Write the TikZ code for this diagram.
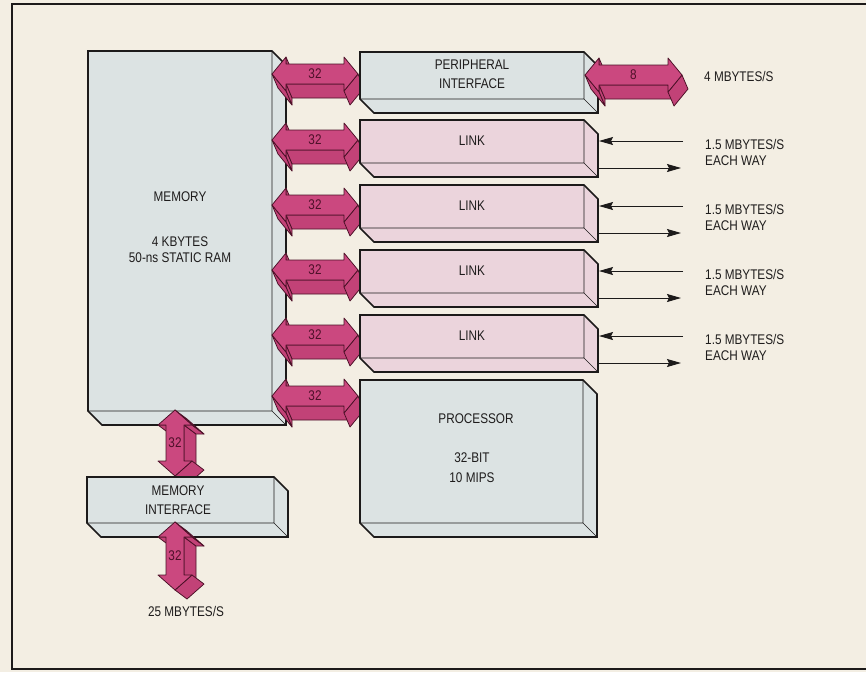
\documentclass[tikz,border=0pt]{standalone}
\usepackage{fontspec}
\setmainfont{Liberation Sans}[FakeStretch=0.84]
\usetikzlibrary{arrows.meta,calc}
\definecolor{bgc}{HTML}{F3EEE3}
\definecolor{boxline}{HTML}{1C1A1A}
\definecolor{bluegrey}{HTML}{DCE3E3}
\definecolor{linkpink}{HTML}{EBD4DC}
\definecolor{mag}{HTML}{CB487F}
\definecolor{magdark}{HTML}{C24277}
\definecolor{magline}{HTML}{4A1026}
\definecolor{labc}{HTML}{4E1029}
\definecolor{txtc}{HTML}{1E1C1C}
% 3D box depth
\newcommand\BxD{14}
% horizontal arrow geometry
\newcommand\ArHl{14}\newcommand\ArHH{17}\newcommand\ArHb{10}
\newcommand\ArHex{6}\newcommand\ArHey{14}
% vertical arrow geometry
\newcommand\ArVl{15}\newcommand\ArVH{17}\newcommand\ArVb{9}
\newcommand\ArVex{12}\newcommand\ArVey{9}
% #1 name, #2 x0, #3 y0, #4 x1, #5 y1, #6 fill
\newcommand\TDBox[6]{%
  \fill[#6] (#2,#3) -- (#4-\BxD,#3) -- (#4,#3+\BxD) -- (#4,#5) -- (#2+\BxD,#5) -- (#2,#5-\BxD) -- cycle;
  \draw[inner line] (#2,#5-\BxD) -- (#4-\BxD,#5-\BxD) -- (#4-\BxD,#3) (#4-\BxD,#5-\BxD) -- (#4,#5);
  \draw[outer line] (#2,#3) -- (#4-\BxD,#3) -- (#4,#3+\BxD) -- (#4,#5) -- (#2+\BxD,#5) -- (#2,#5-\BxD) -- cycle;
  \node[inner sep=0pt, outer sep=0pt, minimum width={(#4-#2)*1pt}, minimum height={(#5-#3)*1pt}, anchor=north west] (#1) at (#2,#3) {};
}
\newcommand\HFace[2]{\filldraw[aface] (#1) -- (#2) -- ($(#2)+(\ArHex,\ArHey)$) -- ($(#1)+(\ArHex,\ArHey)$) -- cycle;}
\newcommand\VFace[2]{\filldraw[aface] (#1) -- (#2) -- ($(#2)+(\ArVex,\ArVey)$) -- ($(#1)+(\ArVex,\ArVey)$) -- cycle;}
% #1 name, #2 xL, #3 xR, #4 yc, #5 label
\newcommand\HArr[5]{%
  \path (#2,#4) coordinate (P1)
    (#2+\ArHl,#4-\ArHH) coordinate (P2)
    (#2+\ArHl,#4-\ArHb) coordinate (P3)
    (#3-\ArHl,#4-\ArHb) coordinate (P4)
    (#3-\ArHl,#4-\ArHH) coordinate (P5)
    (#3,#4) coordinate (P6)
    (#3-\ArHl,#4+\ArHH) coordinate (P7)
    (#3-\ArHl,#4+\ArHb) coordinate (P8)
    (#2+\ArHl,#4+\ArHb) coordinate (P9)
    (#2+\ArHl,#4+\ArHH) coordinate (P10);
  \HFace{P8}{P9}\HFace{P2}{P3}\HFace{P9}{P10}\HFace{P6}{P7}\HFace{P10}{P1}
  \filldraw[afront] (P1) -- (P2) -- (P3) -- (P4) -- (P5) -- (P6) -- (P7) -- (P8) -- (P9) -- (P10) -- cycle;
  \node[lab] (#1) at ($(P1)!0.5!(P6)$) {#5};
}
% #1 name, #2 xc, #3 yT, #4 yB, #5 label
\newcommand\VArr[5]{%
  \path (#2,#3) coordinate (Q1)
    (#2+\ArVH,#3+\ArVl) coordinate (Q2)
    (#2+\ArVb,#3+\ArVl) coordinate (Q3)
    (#2+\ArVb,#4-\ArVl) coordinate (Q4)
    (#2+\ArVH,#4-\ArVl) coordinate (Q5)
    (#2,#4) coordinate (Q6)
    (#2-\ArVH,#4-\ArVl) coordinate (Q7)
    (#2-\ArVb,#4-\ArVl) coordinate (Q8)
    (#2-\ArVb,#3+\ArVl) coordinate (Q9)
    (#2-\ArVH,#3+\ArVl) coordinate (Q10);
  \VFace{Q3}{Q4}\VFace{Q2}{Q3}\VFace{Q1}{Q2}\VFace{Q9}{Q10}\VFace{Q5}{Q6}
  \filldraw[afront] (Q1) -- (Q2) -- (Q3) -- (Q4) -- (Q5) -- (Q6) -- (Q7) -- (Q8) -- (Q9) -- (Q10) -- cycle;
  \node[lab] (#1) at ($(Q1)!0.5!(Q6)$) {#5};
}
\begin{document}
\begin{tikzpicture}[x=1pt,y=-1pt,
  outer line/.style={draw=boxline, line width=1.7pt, line join=miter},
  inner line/.style={draw=boxline, line width=0.6pt},
  afront/.style={fill=mag, draw=magline, line width=0.75pt, line join=round},
  aface/.style={fill=magdark, draw=magline, line width=0.75pt, line join=round},
  lab/.style={font=\fontsize{14}{16}\selectfont, text=labc, inner sep=0pt},
  txt/.style={font=\fontsize{14}{16}\selectfont, text=txtc, inner sep=0pt},
  rtxt/.style={txt, anchor=west},
  thinarr/.style={draw=boxline, line width=0.9pt, -{Stealth[length=14pt,width=8pt,inset=2pt]}},
  frameline/.style={draw=boxline, line width=1.2pt}]
\useasboundingbox (0,0) rectangle (866,672);
\fill[bgc] (0,0) rectangle (866,672);
\draw[frameline] (866,4) -- (12,4) -- (12,669) -- (866,669);

% memory
\TDBox{mem}{88}{51}{286}{425}{bluegrey}

% 32-bit buses from memory
\HArr{b0}{272}{358}{74}{32}
\HArr{b1}{272}{358}{140}{32}
\HArr{b2}{272}{358}{205}{32}
\HArr{b3}{272}{358}{270}{32}
\HArr{b4}{272}{358}{335}{32}
\HArr{b5}{272}{358}{396}{32}

% right-hand boxes
\TDBox{per}{360}{52}{598}{113}{bluegrey}
\TDBox{lk1}{360}{120}{598}{177}{linkpink}
\TDBox{lk2}{360}{185}{598}{242}{linkpink}
\TDBox{lk3}{360}{250}{598}{307}{linkpink}
\TDBox{lk4}{360}{315}{598}{372}{linkpink}
\TDBox{proc}{360}{380}{597}{537}{bluegrey}

% 8-bit peripheral bus
\HArr{b8}{585}{682}{75}{8}

% memory interface buses
\VArr{v1}{175}{410}{476}{32}
\TDBox{mif}{87}{477}{288}{537}{bluegrey}
\VArr{v2}{175}{522}{590}{32}

% link serial lines
\foreach \k/\yi/\yo in {1/141/168, 2/206/233, 3/271/298, 4/336/363}{
  \coordinate (in\k) at (683,\yi);
  \coordinate (out\k) at (681,\yo);
  \draw[thinarr] (in\k) -- ([xshift=1pt]in\k -| lk\k.east);
  \draw[thinarr] (out\k -| lk\k.east) -- (out\k);
}

% texts
\node[txt] (tmem1) at (180,197) {MEMORY};
\node[txt] (tmem2) at (180,242) {4 KBYTES};
\node[txt] (tmem3) at (180,258) {50-ns STATIC RAM};
\node[txt] (tper1) at (472,65) {PERIPHERAL};
\node[txt] (tper2) at (472,84) {INTERFACE};
\node[txt] (tlk1) at (472,141) {LINK};
\node[txt] (tlk2) at (472,206) {LINK};
\node[txt] (tlk3) at (472,271) {LINK};
\node[txt] (tlk4) at (472,336) {LINK};
\node[txt] (tpr1) at (476,419) {PROCESSOR};
\node[txt] (tpr2) at (472,458) {32-BIT};
\node[txt] (tpr3) at (472,478) {10 MIPS};
\node[txt] (tmif1) at (178,491) {MEMORY};
\node[txt] (tmif2) at (178,510) {INTERFACE};
\node[txt] (t25) at (186,611) {25 MBYTES/S};
\node[rtxt] (t4m) at (704,76) {4 MBYTES/S};
\foreach \k/\ya/\yb in {1/144/161, 2/209/226, 3/274/291, 4/339/356}{
  \node[rtxt] (rl\k a) at (705,\ya) {1.5 MBYTES/S};
  \node[rtxt] (rl\k b) at (705,\yb) {EACH WAY};
}
\end{tikzpicture}
\end{document}
